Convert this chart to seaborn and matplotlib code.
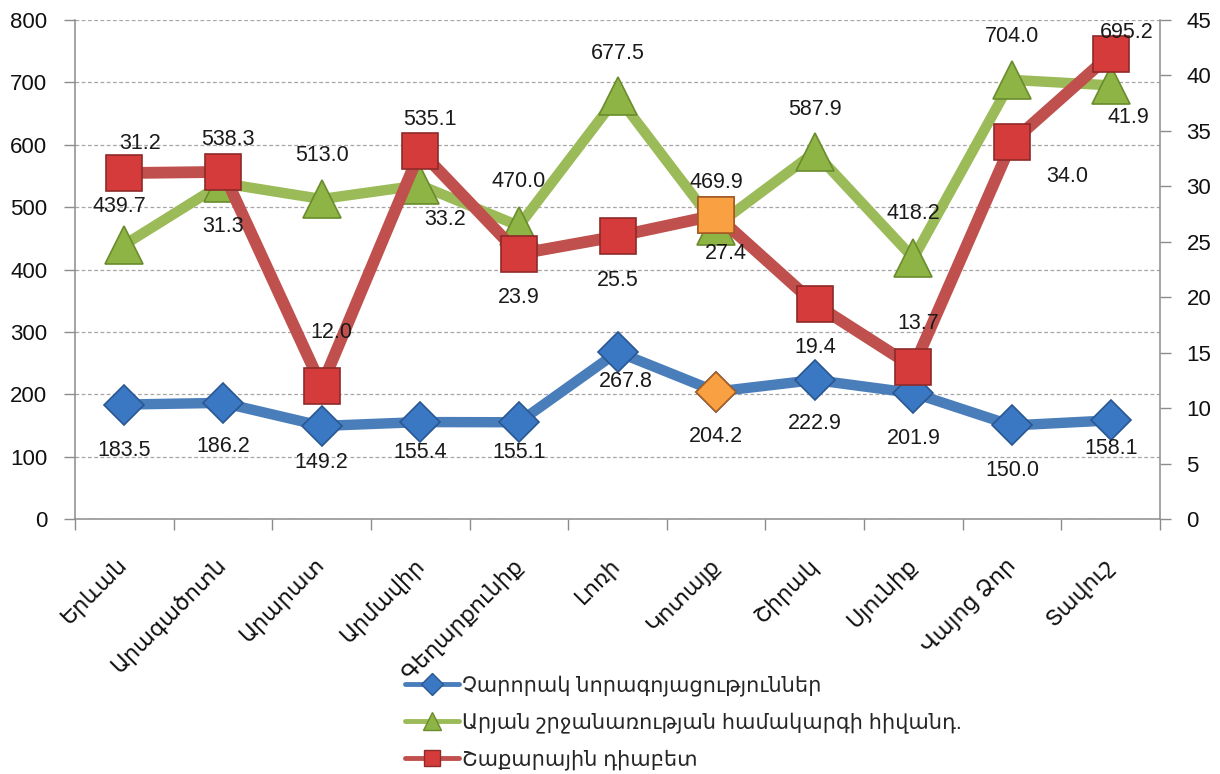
import numpy as np
import pandas as pd
import matplotlib
matplotlib.use("Agg")
import matplotlib.pyplot as plt
import seaborn as sns
from matplotlib.lines import Line2D

# ---------------- data ----------------
regions = ["Երևան", "Արագածոտն", "Արարատ", "Արմավիր", "Գեղարքունիք", "Լոռի",
           "Կոտայք", "Շիրակ", "Սյունիք", "Վայոց Ձոր", "Տավուշ"]
malignant = [183.5, 186.2, 149.2, 155.4, 155.1, 267.8, 204.2, 222.9, 201.9, 150.0, 158.1]
circulatory = [439.7, 538.3, 513.0, 535.1, 470.0, 677.5, 469.9, 587.9, 418.2, 704.0, 695.2]
diabetes = [31.2, 31.3, 12.0, 33.2, 23.9, 25.5, 27.4, 19.4, 13.7, 34.0, 41.9]
series_names = ["Չարորակ նորագոյացություններ",
                "Արյան շրջանառության համակարգի հիվանդ.",
                "Շաքարային դիաբետ"]
left_ticks = [0, 100, 200, 300, 400, 500, 600, 700, 800]
right_ticks = [0, 5, 10, 15, 20, 25, 30, 35, 40, 45]
highlight_idx = 6

# label offsets (pixels, dx right, dy down)
blue_dx = [0, 0, 0, 0, 0, 8, 0, 0, 0, 0, 0]
blue_dy = [46, 44, 37, 30, 30, 30, 45, 44, 45, 45, 28]
green_dx = [-5, 5, 0, 10, 0, 0, 0, 0, 0, 0, 16]
green_dy = [-38, -44, -44, -66, -44, -43, -43, -43, -45, -43, -53]
red_dx = [16, 0, 10, 25, 0, 0, 10, 0, 5, 55, 18]
red_dy = [-30, 55, -53, 69, 44, 44, 38, 44, -44, 35, 63]

# ---------------- style ----------------
sns.set_style("white")
plt.rcParams["font.family"] = ["Liberation Sans", "DejaVu Sans"]

blue_line, blue_fill, blue_edge = "#4A7EBB", "#3B78C4", "#2A5791"
green_line, green_fill, green_edge = "#9BBB59", "#8DB444", "#6A8C2C"
red_line, red_fill, red_edge = "#C0504D", "#D63B3B", "#8E2A28"
orange_fill, orange_edge = "#F9A142", "#A85F26"
axis_col = "#8C8C8C"

fig = plt.figure(figsize=(12.2, 7.74), dpi=100)
ax = fig.add_axes([75 / 1220, 1 - 519 / 774, 1085 / 1220, 499 / 774])
ax2 = ax.twinx()

x = np.arange(len(regions))
df = pd.DataFrame({"pos": x, "region": regions, "mal": malignant,
                   "circ": circulatory, "diab": diabetes})

sns.lineplot(data=df, x="pos", y="circ", ax=ax, color=green_line, lw=7.5,
             marker="^", ms=27, mfc=green_fill, mec=green_edge, mew=1.2, zorder=3)
sns.lineplot(data=df, x="pos", y="mal", ax=ax, color=blue_line, lw=7.5,
             marker="D", ms=20, mfc=blue_fill, mec=blue_edge, mew=1.2, zorder=4)
sns.lineplot(data=df, x="pos", y="diab", ax=ax2, color=red_line, lw=8.5,
             marker="s", ms=26, mfc=red_fill, mec=red_edge, mew=1.2, zorder=3)

# highlighted points
ax.plot([x[highlight_idx]], [malignant[highlight_idx]], ls="none", marker="D", ms=20,
        mfc=orange_fill, mec=orange_edge, mew=1.2, zorder=5)
ax2.plot([x[highlight_idx]], [diabetes[highlight_idx]], ls="none", marker="s", ms=26,
         mfc=orange_fill, mec=orange_edge, mew=1.2, zorder=5)

# axes limits & ticks
ax.set_xlim(-0.5, len(regions) - 0.5)
ax.set_ylim(0, 800)
ax2.set_ylim(0, 45)
ax.set_yticks(left_ticks)
ax2.set_yticks(right_ticks)
ax.set_xticks(x)
ax.set_xticklabels(regions, rotation=45, ha="right", va="center",
                   rotation_mode="anchor", fontsize=16, color="#111111")
ax.set_xticks(np.arange(-0.5, len(regions), 1), minor=True)
ax.set_xlabel("")
ax.set_ylabel("")
ax2.set_ylabel("")

ax.yaxis.grid(True, linestyle=(0, (3, 2)), color="#A6A6A6", lw=0.9)
ax.xaxis.grid(False)
ax.set_axisbelow(True)

for s in ["top", "right"]:
    ax.spines[s].set_visible(False)
for s in ["top", "left", "bottom"]:
    ax2.spines[s].set_visible(False)
for sp in [ax.spines["left"], ax.spines["bottom"], ax2.spines["right"]]:
    sp.set_color(axis_col)
    sp.set_linewidth(1.1)

ax.tick_params(axis="y", left=True, length=8, width=1, color=axis_col, pad=12,
               labelsize=16, labelcolor="#111111", direction="out")
ax2.tick_params(axis="y", right=True, length=8, width=1, color=axis_col, pad=11,
                labelsize=16, labelcolor="#111111", direction="out")
ax.tick_params(axis="x", which="major", bottom=True, length=0, pad=31)
ax.tick_params(axis="x", which="minor", bottom=True, length=8, width=1,
               color=axis_col, direction="out")

# data labels (drawn on top axis so they sit above all markers)
def put_labels(vals, dxs, dys, trans):
    for i, v in enumerate(vals):
        ax2.annotate(f"{v:.1f}", xy=(x[i], v), xycoords=trans,
                     xytext=(dxs[i], -dys[i]), textcoords="offset pixels",
                     ha="center", va="center", fontsize=15.5, color="#1a1a1a",
                     zorder=10)

put_labels(malignant, blue_dx, blue_dy, ax.transData)
put_labels(circulatory, green_dx, green_dy, ax.transData)
put_labels(diabetes, red_dx, red_dy, ax2.transData)

# legend
handles = [
    Line2D([0], [0], color=blue_line, lw=3.5, marker="D", ms=11,
           mfc=blue_fill, mec=blue_edge),
    Line2D([0], [0], color=green_line, lw=3.5, marker="^", ms=13,
           mfc=green_fill, mec=green_edge),
    Line2D([0], [0], color=red_line, lw=3.5, marker="s", ms=12,
           mfc=red_fill, mec=red_edge),
]
fig.legend(handles, series_names, loc="upper left",
           bbox_to_anchor=(405 / 1220, 1 - 675 / 774), frameon=False,
           fontsize=15, handlelength=2.6, handletextpad=0.15,
           labelspacing=0.78, borderpad=0, borderaxespad=0)

fig.savefig("out.png", dpi=100)
